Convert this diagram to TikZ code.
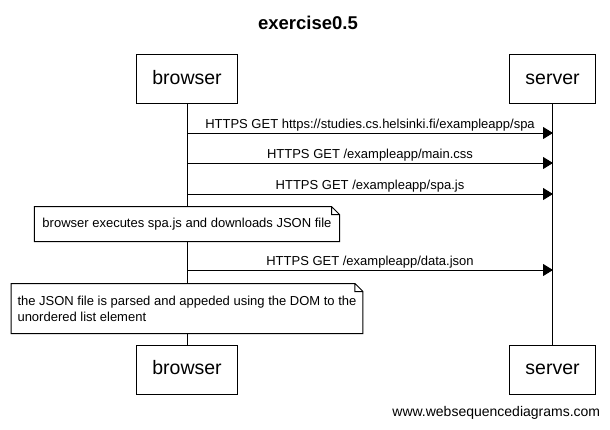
\documentclass[tikz,border=0pt]{standalone}
\usepackage{fontspec}
\setmainfont{Liberation Sans}
\usetikzlibrary{arrows.meta,positioning}
\def\foldsize{8pt}

\begin{document}
\begin{tikzpicture}[x=1pt,y=-1pt,line width=1pt,>={Triangle[length=10pt,width=12pt]},
    every node/.append style={font=\fontsize{13}{16}\selectfont}]
    \tikzstyle{actor}=[draw, fill=white, minimum height=49pt, inner xsep=16pt, text height=14pt, text depth=4pt, font=\fontsize{19.5}{22}\selectfont]
    \tikzstyle{message}=[above, inner sep=1pt, text depth=3pt]
    \tikzstyle{note}=[fill=white, align=left, inner xsep=7.5pt]
    \tikzstyle{title}=[font=\bfseries\fontsize{18.5}{22}\selectfont]

    \useasboundingbox (0,0) rectangle (610,429);

    \node[title] (title) at (308,23) {exercise0.5};

    % Draw the participants
    \node[actor] (browser-top) at (187,79) {browser};
    \node[actor] (server-top) at (552.5,79) {server};
    \node[actor] (browser-bottom) at (187,369.5) {browser};
    \node[actor] (server-bottom) at (552.5,369.5) {server};

    % Draw the lifelines
    \draw (browser-top) -- (browser-bottom);
    \draw (server-top) -- (server-bottom);

    % Points on the lifelines
    \coordinate (B1) at (187,133);  \coordinate (S1) at (553,133);
    \coordinate (B2) at (187,163);  \coordinate (S2) at (553,163);
    \coordinate (B3) at (187,194);  \coordinate (S3) at (553,194);
    \coordinate (B4) at (187,270);  \coordinate (S4) at (553,270);

    % Draw the messages
    \draw[->] (B1) -- node[message] {HTTPS GET https://studies.cs.helsinki.fi/exampleapp/spa} (S1);
    \draw[->] (B2) -- node[message] {HTTPS GET /exampleapp/main.css} (S2);
    \draw[->] (B3) -- node[message] {HTTPS GET /exampleapp/spa.js} (S3);
    \draw[->] (B4) -- node[message] {HTTPS GET /exampleapp/data.json} (S4);

    % Draw the notes over the browser
    \node[note, minimum height=34pt] (note1) at (187,224) {browser executes spa.js and downloads JSON file};
    \node[note, minimum height=49pt, inner xsep=6pt] (note2) at (187,308.5) {the JSON file is parsed and appeded using the DOM to the\\unordered list element};
    \foreach \n in {note1,note2}
        \draw (\n.north west) -- ([xshift=-\foldsize]\n.north east) -- ([yshift=-\foldsize]\n.north east)
              -- (\n.south east) -- (\n.south west) -- cycle
              ([xshift=-\foldsize]\n.north east) |- ([yshift=-\foldsize]\n.north east);

    \node[anchor=east, font=\fontsize{14}{16}\selectfont] (footer) at (604,413) {www.websequencediagrams.com};
\end{tikzpicture}
\end{document}
